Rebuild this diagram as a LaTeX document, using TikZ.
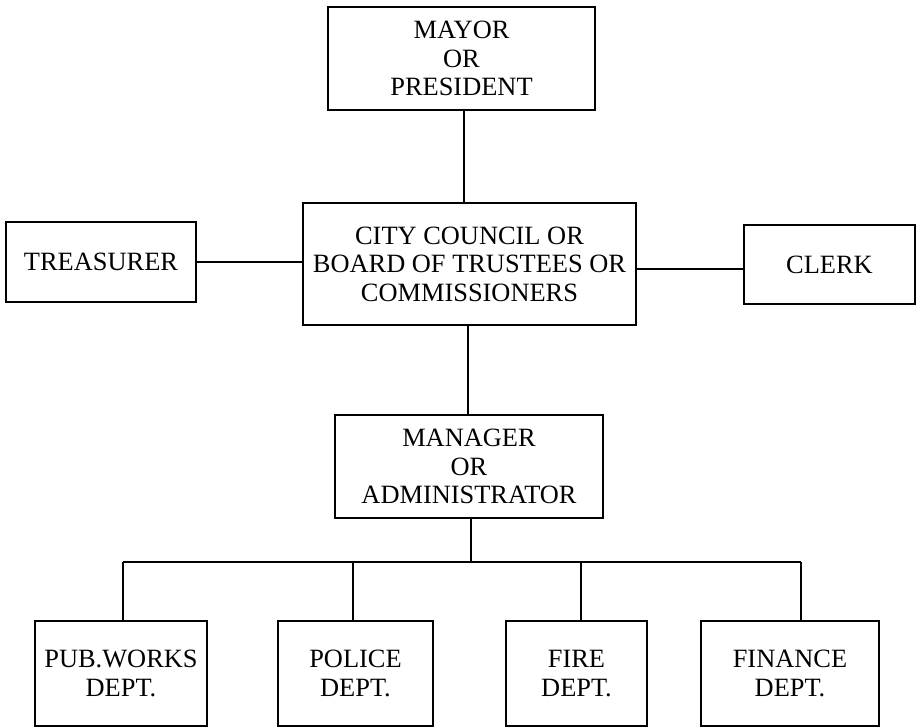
\documentclass[tikz,border=0pt]{standalone}
\usepackage{fontspec}
\setmainfont{Liberation Serif}
\begin{document}
\begin{tikzpicture}[x=1pt,y=-1pt,
  box/.style={draw,line width=1.8pt,align=center,inner sep=0pt,
    font=\fontsize{26.4}{28.5}\selectfont},
  link/.style={line width=1.8pt}]
\useasboundingbox (0,0) rectangle (917,727);
\node[box,minimum width=267pt,minimum height=103pt] (mayor) at (461.5,58.5) {MAYOR\\OR\\PRESIDENT};
\node[box,minimum width=333pt,minimum height=122pt] (council) at (469.5,264) {CITY COUNCIL OR\\BOARD OF TRUSTEES OR\\COMMISSIONERS};
\node[box,minimum width=190pt,minimum height=80pt] (treasurer) at (101,262) {TREASURER};
\node[box,minimum width=171pt,minimum height=79pt] (clerk) at (829.5,264.5) {CLERK};
\node[box,minimum width=268pt,minimum height=103pt] (manager) at (469,466.5) {MANAGER\\OR\\ADMINISTRATOR};
\node[box,minimum width=172pt,minimum height=105pt] (pub) at (121,673.5) {PUB.WORKS\\DEPT.};
\node[box,minimum width=155pt,minimum height=105pt] (police) at (355.5,673.5) {POLICE\\DEPT.};
\node[box,minimum width=141pt,minimum height=105pt] (fire) at (576.5,673.5) {FIRE\\DEPT.};
\node[box,minimum width=178pt,minimum height=105pt] (finance) at (790,673.5) {FINANCE\\DEPT.};
\coordinate (c1) at (464,0);
\coordinate (c2) at (468,0);
\coordinate (c3) at (471,0);
\coordinate (clk) at (0,269);
\coordinate (bus) at (0,562);
\coordinate (d1) at (123,0);
\coordinate (d2) at (353,0);
\coordinate (d3) at (581,0);
\coordinate (d4) at (801,0);
\draw[link] (mayor.south -| c1) -- (council.north -| c1);
\draw[link] (council.south -| c2) -- (manager.north -| c2);
\draw[link] (treasurer.east) -- (council.west |- treasurer.east);
\draw[link] (council.east |- clk) -- (clerk.west |- clk);
\draw[link] (manager.south -| c3) -- (bus -| c3);
\draw[link] (bus -| d1) -- (bus -| d4);
\draw[link] (bus -| d1) -- (pub.north -| d1);
\draw[link] (bus -| d2) -- (police.north -| d2);
\draw[link] (bus -| d3) -- (fire.north -| d3);
\draw[link] (bus -| d4) -- (finance.north -| d4);
\end{tikzpicture}
\end{document}
